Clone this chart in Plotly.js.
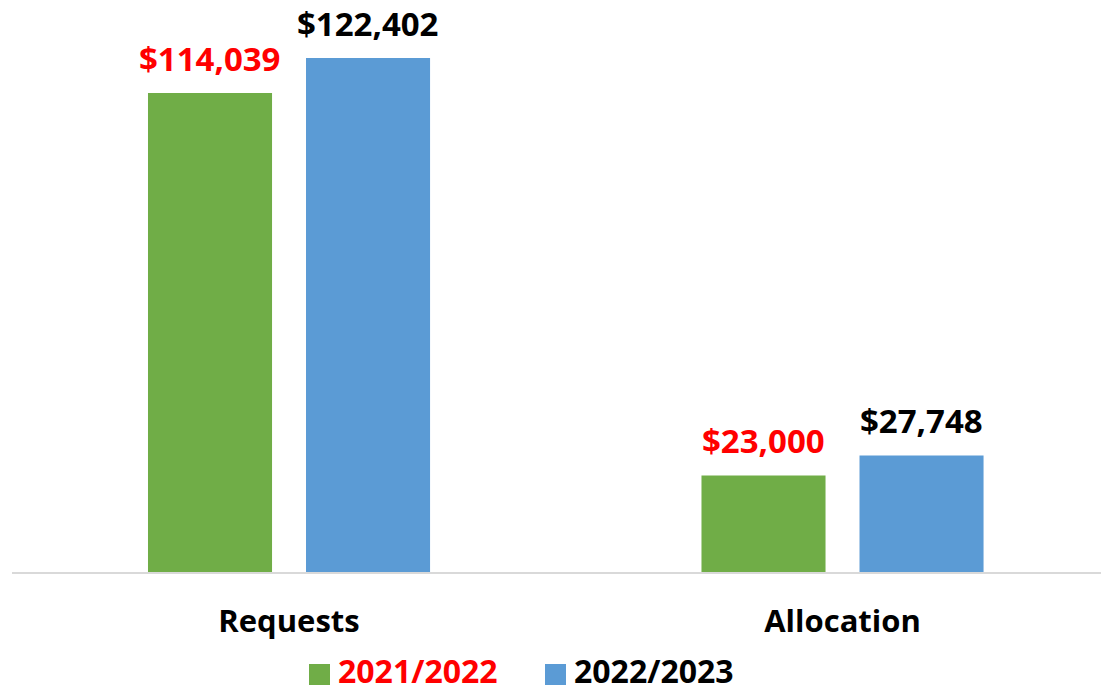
<!DOCTYPE html>
<html>
<head>
<meta charset="utf-8">
<script src="https://cdn.plot.ly/plotly-3.0.1.min.js"></script>
<style>html,body{margin:0;padding:0;background:#fff;}#chart{width:1101px;height:692px;}</style>
</head>
<body>
<div id="chart"></div>
<script>
const categories = ["Requests", "Allocation"];
const seriesNames = ["2021/2022", "2022/2023"];
const values2122 = [114039, 23000];
const values2223 = [122402, 27748];
const seriesColors = ["#70AD47", "#5B9BD5"];
const labelColors = ["#FF0000", "#000000"];

const FONT = "'Open Sans', 'Noto Sans', sans-serif";
const fmt = v => "$" + v.toLocaleString("en-US");

const W = 1101, H = 692;
const M = {l: 12, r: 0, t: 0, b: 120};
const pw = W - M.l - M.r, ph = H - M.t - M.b;
const px2x = p => (p - M.l) / pw;
const px2y = p => (H - M.b - p) / ph;

const allValues = [values2122, values2223];
const traces = allValues.map((vals, i) => ({
  type: "bar",
  x: categories,
  y: vals,
  name: seriesNames[i],
  marker: {color: seriesColors[i], line: {width: 0}},
  hoverinfo: "none",
  showlegend: false
}));

const annotations = [];
allValues.forEach((vals, i) => {
  vals.forEach((v, j) => {
    annotations.push({
      x: categories[j], y: v, xref: "x", yref: "y",
      text: "<b>" + fmt(v) + "</b>",
      showarrow: false, yanchor: "bottom", xanchor: "center",
      xshift: i === 0 ? -79 : 79, yshift: 10,
      font: {family: FONT, size: 33, color: labelColors[i]}
    });
  });
});

// legend (drawn as paper-positioned swatches + texts)
const legendX = [309, 545];
const shapes = [];
seriesNames.forEach((nm, i) => {
  shapes.push({
    type: "rect", xref: "paper", yref: "paper",
    x0: px2x(legendX[i]), x1: px2x(legendX[i] + 21),
    y0: px2y(685), y1: px2y(664),
    fillcolor: seriesColors[i], line: {width: 0}
  });
  annotations.push({
    xref: "paper", yref: "paper",
    x: px2x(legendX[i] + 27), y: px2y(670),
    xanchor: "left", yanchor: "middle",
    text: "<b>" + nm + "</b>", showarrow: false,
    font: {family: FONT, size: 32, color: labelColors[i]}
  });
});

const layout = {
  width: W, height: H,
  margin: {l: M.l, r: M.r, t: M.t, b: M.b, autoexpand: false},
  paper_bgcolor: "#fff", plot_bgcolor: "#fff",
  barmode: "group", bargap: 0.429, bargroupgap: 0.215,
  font: {family: FONT, color: "#000"},
  xaxis: {
    type: "category", range: [-0.5005, 1.467], automargin: false,
    showline: true, linecolor: "#d9d9d9", linewidth: 2,
    ticks: "outside", ticklen: 21, tickcolor: "rgba(0,0,0,0)",
    tickfont: {family: FONT, size: 31, color: "#000", weight: "bold"},
    showgrid: false, zeroline: false, fixedrange: true
  },
  yaxis: {
    range: [0, 136190], visible: false, showgrid: false, zeroline: false, fixedrange: true
  },
  showlegend: false,
  shapes: shapes,
  annotations: annotations
};

Plotly.newPlot("chart", traces, layout, {displayModeBar: false, staticPlot: true});
</script>
</body>
</html>
